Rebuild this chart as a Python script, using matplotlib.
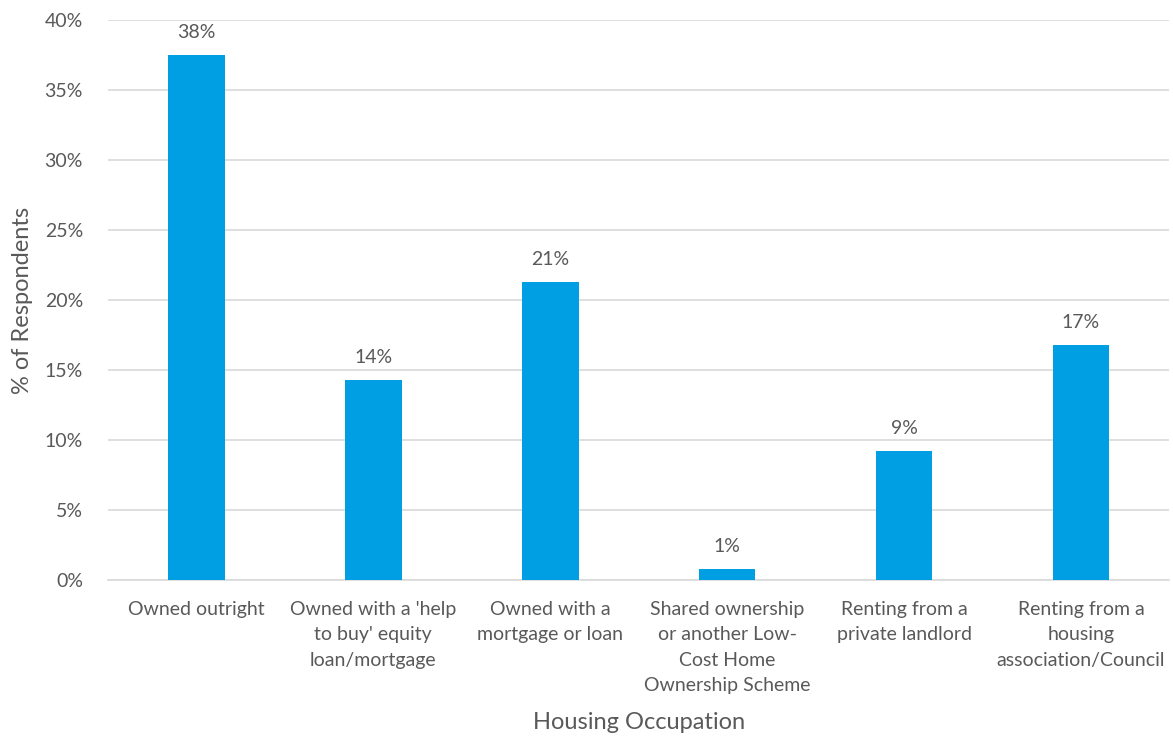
import matplotlib
matplotlib.use("Agg")
import matplotlib.pyplot as plt
from matplotlib.ticker import PercentFormatter, MultipleLocator

categories = [
    "Owned outright",
    "Owned with a 'help\nto buy' equity\nloan/mortgage",
    "Owned with a\nmortgage or loan",
    "Shared ownership\nor another Low-\nCost Home\nOwnership Scheme",
    "Renting from a\nprivate landlord",
    "Renting from a\nhousing\nassociation/Council",
]
shares = [0.375, 0.143, 0.213, 0.008, 0.092, 0.168]

BAR = "#009FE3"
TEXT = "#595959"
GRID = "#D9D9D9"

plt.rcParams["font.family"] = ["Lato", "DejaVu Sans"]

fig = plt.figure(figsize=(11.73, 7.38), dpi=100)
ax = fig.add_axes([0.092, 0.214, 0.905, 0.759])

x = list(range(len(categories)))
bars = ax.bar(x, shares, width=0.32, color=BAR, zorder=3)

for rect, v in zip(bars, shares):
    ax.annotate(f"{v:.0%}", (rect.get_x() + rect.get_width() / 2, v),
                xytext=(0, 10), textcoords="offset points",
                ha="center", va="bottom", fontsize=14, color=TEXT)

ax.set_ylim(0, 0.40)
ax.set_xlim(-0.5, len(categories) - 0.5)
ax.yaxis.set_major_locator(MultipleLocator(0.05))
ax.yaxis.set_major_formatter(PercentFormatter(1.0, decimals=0))
ax.grid(axis="y", color=GRID, linewidth=1.2, zorder=0)

ax.set_xticks(x)
ax.set_xticklabels(categories, fontsize=14, color=TEXT, linespacing=1.6)
ax.tick_params(axis="y", labelsize=14, labelcolor=TEXT, length=0, pad=18)
ax.tick_params(axis="x", length=0, pad=15)

for side in ("top", "right", "left"):
    ax.spines[side].set_visible(False)
ax.spines["bottom"].set_color(GRID)
ax.spines["bottom"].set_linewidth(1.2)

ax.set_xlabel("Housing Occupation", fontsize=17, color=TEXT, labelpad=13)
ax.set_ylabel("% of Respondents", fontsize=17, color=TEXT, labelpad=8)

fig.savefig("out.png", dpi=100)
